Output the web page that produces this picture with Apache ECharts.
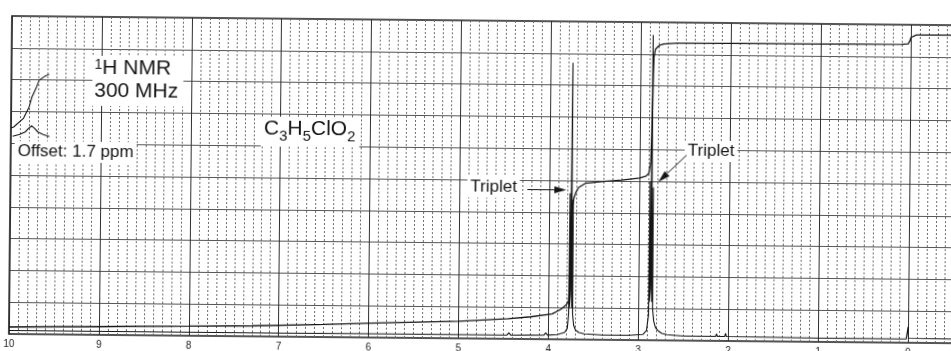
<!DOCTYPE html>
<html>
<head>
<meta charset="utf-8">
<title>1H NMR C3H5ClO2</title>
<script src="https://cdn.jsdelivr.net/npm/echarts@6/dist/echarts.min.js"></script>
<style>
html, body { margin: 0; padding: 0; background: #fff; overflow: hidden; width: 951px; height: 351px; }
/* the scanned chart sits slightly tilted, so the whole plot is turned a little */
#main { position: absolute; left: 0; top: 0; width: 1004px; height: 351px; transform: rotate(0.56deg); transform-origin: 12px 16px; }
</style>
</head>
<body>
<div id="main"></div>
<script>
// tick labels shown under the axis (ppm)
var ppmTicks = [10, 9, 8, 7, 6, 5, 4, 3, 2, 1, 0];

// spectrum trace [ppm, height]
var spectrum = [
    [10.0, 1.1], [9.0, 1.1], [8.0, 1.1], [7.0, 1.1], [6.0, 1.2], [5.0, 1.2],
    [4.46, 1.2], [4.44, 1.9], [4.42, 1.2], [4.05, 1.3], [4.03, 2.0], [4.01, 1.3],
    [3.90, 1.5], [3.82, 2.2], [3.79, 3.5], [3.777, 8], [3.773, 46], [3.769, 10],
    [3.762, 14], [3.755, 87], [3.749, 16], [3.742, 10], [3.737, 44], [3.733, 8],
    [3.72, 4.5], [3.70, 3], [3.66, 2.2], [3.6, 1.8], [3.4, 1.5], [3.1, 1.5],
    [2.95, 1.8], [2.91, 3], [2.888, 8], [2.884, 50], [2.880, 12], [2.872, 16],
    [2.866, 96], [2.860, 18], [2.853, 12], [2.848, 48], [2.844, 10], [2.83, 6],
    [2.81, 4], [2.78, 3], [2.74, 2.2], [2.68, 1.8], [2.5, 1.4], [2.14, 1.4],
    [2.13, 2.2], [2.12, 1.4], [2.04, 1.4], [2.03, 2.4], [2.02, 1.4], [1.0, 1.2],
    [0.02, 1.2], [0.005, 1.4], [0.0, 5], [-0.005, 1.4], [-1, 1.2]
];

// integral trace [ppm, height]
var integral = [
    [10, 2.2], [9, 2.6], [8, 3.0], [7.3, 3.3], [6.5, 4.0], [5.9, 4.6], [5, 5.4],
    [4.45, 6.3], [4.2, 7.0], [3.96, 8.0], [3.86, 9.5], [3.8, 11], [3.78, 12],
    [3.765, 20], [3.758, 30], [3.752, 38], [3.745, 42], [3.73, 44.5], [3.71, 46.2],
    [3.68, 47.8], [3.6, 49.2], [3.4, 49.8], [3.2, 50.3], [3.0, 51], [2.93, 51.6],
    [2.9, 52.5], [2.88, 56], [2.87, 65], [2.865, 75], [2.86, 84], [2.855, 89],
    [2.84, 91.5], [2.8, 92.7], [2.75, 93.2], [2.6, 93.5], [2.0, 93.6], [1.0, 93.7],
    [0.1, 93.8], [0.03, 94], [0.01, 95], [0, 96], [-0.02, 96.6], [-0.06, 96.8], [-1, 96.9]
];

// offset inset (top left): peak and its integral
var insetPeak = [
    [9.98, 62.2], [9.90, 62.8], [9.84, 63.6], [9.80, 64.8], [9.77, 65.5],
    [9.74, 64.8], [9.70, 63.6], [9.64, 62.8], [9.57, 62.2]
];
var insetIntegral = [
    [10, 64.8], [9.97, 65.1], [9.86, 67.9], [9.80, 71.4], [9.77, 74.5],
    [9.72, 77.7], [9.69, 79.9], [9.63, 81.1], [9.58, 81.8]
];

var fontFam = '"Liberation Sans", Arial, Helvetica, sans-serif';
var ink = '#151515';

var myChart = echarts.init(document.getElementById('main'), null, {renderer: 'canvas'});

function arrow(x1, y1, x2, y2) {
    var dx = x2 - x1, dy = y2 - y1;
    var len = Math.sqrt(dx * dx + dy * dy);
    var ux = dx / len, uy = dy / len;
    var hl = 12, hw = 3.5;
    var bx = x2 - ux * hl, by = y2 - uy * hl;
    return [
        {type: 'line', z: 100, shape: {x1: x1, y1: y1, x2: bx, y2: by}, style: {stroke: ink, lineWidth: 1}},
        {type: 'polygon', z: 100, shape: {points: [[x2, y2], [bx - uy * hw, by + ux * hw], [bx + uy * hw, by - ux * hw]]}, style: {fill: ink}}
    ];
}

function lineSeries(data, w) {
    return {
        type: 'line',
        data: data,
        symbol: 'none',
        showSymbol: false,
        animation: false,
        z: 5,
        lineStyle: {color: ink, width: w}
    };
}

var option = {
    animation: false,
    grid: {left: 12, right: 2, top: 16, bottom: 17, show: true, borderColor: '#1a1a1a', borderWidth: 1.6},
    xAxis: {
        type: 'value',
        inverse: true,
        min: -1,
        max: 10,
        interval: 1,
        axisLine: {show: false},
        axisTick: {show: false},
        axisLabel: {
            color: '#222', fontSize: 10, fontFamily: fontFam, margin: 5,
            formatter: function (v) { return ppmTicks.indexOf(v) >= 0 ? String(v) : ''; }
        },
        splitLine: {show: true, lineStyle: {color: '#2e2e2e', width: 1}},
        minorTick: {show: false, splitNumber: 10},
        minorSplitLine: {show: true, lineStyle: {color: '#6a6a6a', width: 1, type: [2, 2]}}
    },
    yAxis: {
        type: 'value',
        min: 0,
        max: 100,
        interval: 10,
        axisLine: {show: false},
        axisTick: {show: false},
        axisLabel: {show: false},
        splitLine: {show: true, lineStyle: {color: '#555', width: 1}}
    },
    series: [
        lineSeries(spectrum, 1.1),
        lineSeries(integral, 1.3),
        lineSeries(insetPeak, 1.1),
        lineSeries(insetIntegral, 1.1)
    ],
    graphic: [
        {
            type: 'text', x: 93, y: 55, z: 100,
            style: {
                text: '{s|1}{b|H NMR}\n{b|300 MHz}',
                fill: ink, fontFamily: fontFam, fontSize: 21,
                backgroundColor: '#fff', padding: [2, 5, 2, 2],
                align: 'left', verticalAlign: 'top',
                rich: {
                    s: {fontSize: 14, fontFamily: fontFam, fill: ink, lineHeight: 14, verticalAlign: 'top'},
                    b: {fontSize: 21, fontFamily: fontFam, fill: ink, lineHeight: 23, verticalAlign: 'top'}
                }
            }
        },
        {
            type: 'text', x: 262, y: 114, z: 100,
            style: {
                text: '{b|C}{u|3}{b|H}{u|5}{b|ClO}{u|2}',
                fill: ink, fontFamily: fontFam, fontSize: 21,
                backgroundColor: '#fff', padding: [2, 4, 3, 3],
                align: 'left', verticalAlign: 'top',
                rich: {
                    b: {fontSize: 21, fontFamily: fontFam, fill: ink, lineHeight: 25, verticalAlign: 'top'},
                    u: {fontSize: 15, fontFamily: fontFam, fill: ink, lineHeight: 15, verticalAlign: 'bottom'}
                }
            }
        },
        {
            type: 'text', x: 16, y: 141, z: 100,
            style: {
                text: 'Offset: 1.7 ppm', fill: ink, fontFamily: fontFam, fontSize: 17,
                backgroundColor: '#fff', padding: [2, 3],
                align: 'left', verticalAlign: 'top'
            }
        },
        {
            type: 'text', x: 469, y: 172, z: 100,
            style: {
                text: 'Triplet', fill: ink, fontFamily: fontFam, fontSize: 17,
                backgroundColor: '#fff', padding: [2, 3],
                align: 'left', verticalAlign: 'top'
            }
        },
        {
            type: 'text', x: 686, y: 134, z: 100,
            style: {
                text: 'Triplet', fill: ink, fontFamily: fontFam, fontSize: 17,
                backgroundColor: '#fff', padding: [2, 3],
                align: 'left', verticalAlign: 'top'
            }
        }
    ].concat(arrow(529, 184.5, 568, 184.5)).concat(arrow(688, 148.5, 660, 175.5))
};

myChart.setOption(option);
</script>
</body>
</html>
